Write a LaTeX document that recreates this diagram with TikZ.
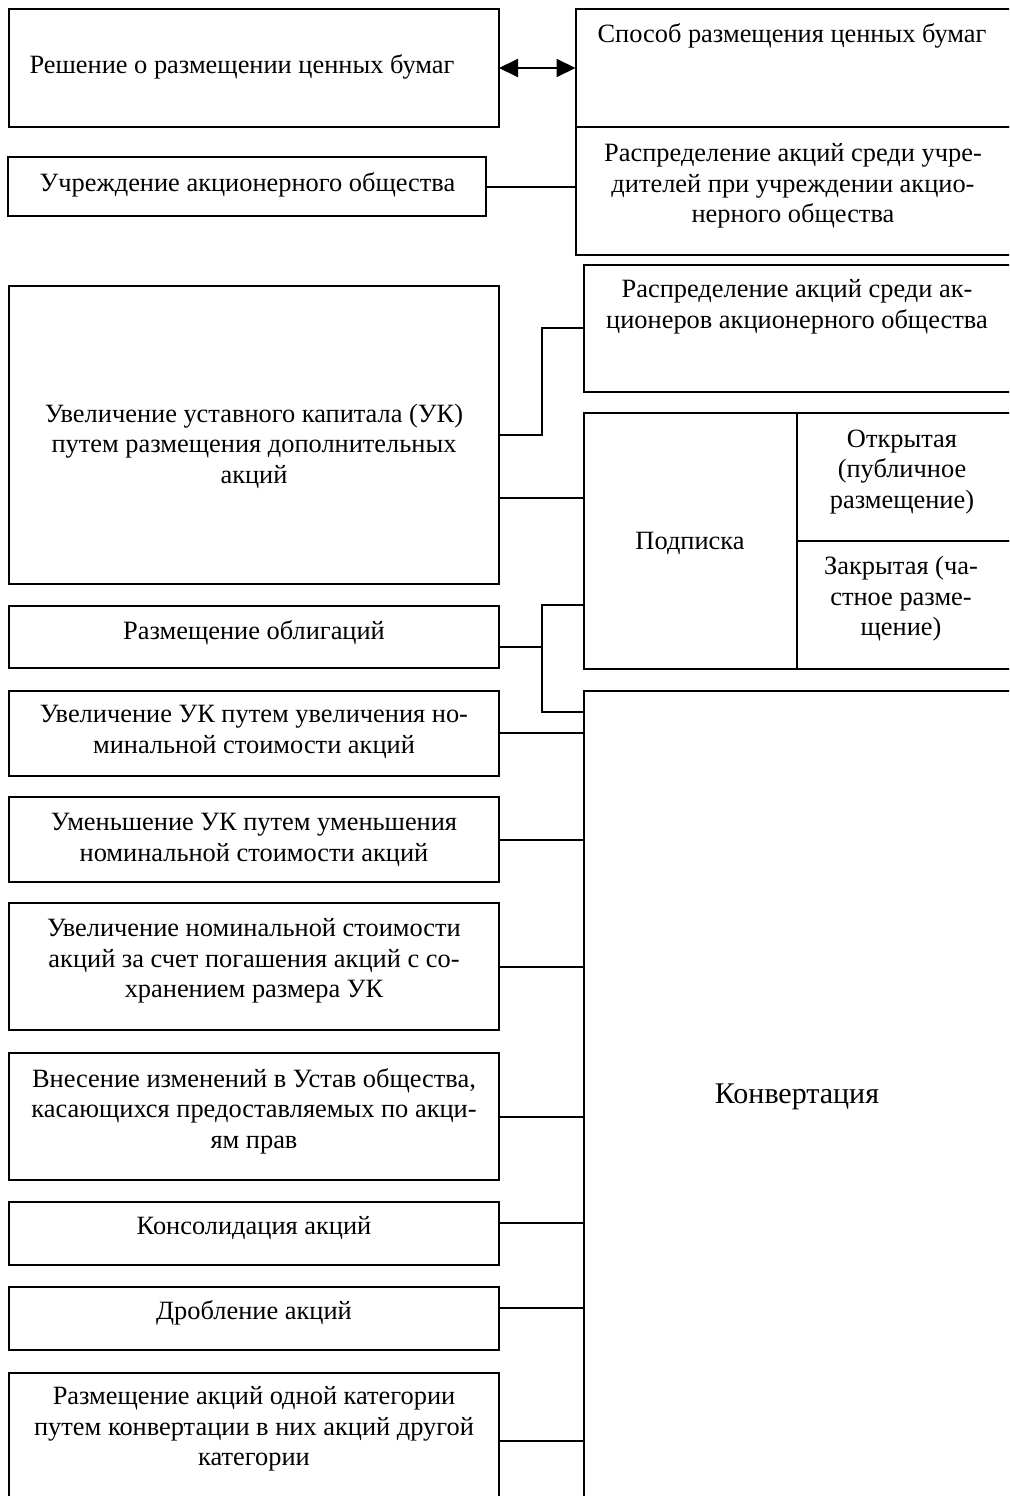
\documentclass[tikz,border=0pt]{standalone}
\usepackage{fontspec}
\setmainfont{Liberation Serif}
\usetikzlibrary{arrows.meta}
\tikzset{
  box/.style={draw, line width=2pt, rectangle, inner sep=0pt, outer sep=0pt},
  lbl/.style={align=center, inner sep=0pt, font=\fontsize{26.4}{30.5}\selectfont},
  conn/.style={line width=2pt},
}
\begin{document}
\begin{tikzpicture}[x=1pt,y=-1pt]
\useasboundingbox (0,0) rectangle (1009,1496);
\clip (0,0) rectangle (1009,1496);
% left column
\node[box, minimum width=490pt, minimum height=118pt] (resh) at (254,68) {};
\node[box, minimum width=478pt, minimum height=59pt] (uchr) at (247,186.5) {};
\node[box, minimum width=490pt, minimum height=298pt] (ukbig) at (254,434.5) {};
\node[box, minimum width=490pt, minimum height=62pt] (oblig) at (254,637) {};
\node[box, minimum width=490pt, minimum height=85pt] (b1) at (254,733) {};
\node[box, minimum width=490pt, minimum height=85pt] (b2) at (254,839.5) {};
\node[box, minimum width=490pt, minimum height=127pt] (b3) at (254,966.5) {};
\node[box, minimum width=490pt, minimum height=127pt] (b4) at (254,1116.5) {};
\node[box, minimum width=490pt, minimum height=63pt] (b5) at (254,1233.5) {};
\node[box, minimum width=490pt, minimum height=63pt] (b6) at (254,1318.5) {};
\node[box, minimum width=490pt, minimum height=148pt] (b7) at (254,1446.5) {};
% right column
\node[box, minimum width=444.5pt, minimum height=118pt] (sposob) at (797.75,68) {};
\node[box, minimum width=444.5pt, minimum height=128pt] (raspr1) at (797.75,191) {};
\node[box, minimum width=436.5pt, minimum height=127pt] (raspr2) at (801.75,328) {};
\node[box, minimum width=213.5pt, minimum height=256pt] (podp) at (690.25,541) {};
\node[box, minimum width=223pt, minimum height=128pt] (otkr) at (908.5,477) {};
\node[box, minimum width=223pt, minimum height=128pt] (zakr) at (908.5,605) {};
\node[box, minimum width=436.5pt, minimum height=830pt] (konv) at (801.75,1105.5) {};
% texts
\node[lbl] (tresh) at (242,67) {Решение о размещении ценных бумаг};
\node[lbl] (tuchr) at (247.5,185) {Учреждение акционерного общества};
\node[lbl] (tukbig) at (254,446) {Увеличение уставного капитала (УК)\\путем размещения дополнительных\\акций};
\node[lbl] (toblig) at (254,633) {Размещение облигаций};
\node[lbl] (tb1) at (254,732) {Увеличение УК путем увеличения но-\\минальной стоимости акций};
\node[lbl] (tb2) at (254,840) {Уменьшение УК путем уменьшения\\номинальной стоимости акций};
\node[lbl] (tb3) at (254,961) {Увеличение номинальной стоимости\\акций за счет погашения акций с со-\\хранением размера УК};
\node[lbl] (tb4) at (254,1111) {Внесение изменений в Устав общества,\\касающихся предоставляемых по акци-\\ям прав};
\node[lbl] (tb5) at (254,1228) {Консолидация акций};
\node[lbl] (tb6) at (254,1313) {Дробление акций};
\node[lbl] (tb7) at (254,1429) {Размещение акций одной категории\\путем конвертации в них акций другой\\категории};
\node[lbl] (tsposob) at (792,36) {Способ размещения ценных бумаг};
\node[lbl] (traspr1) at (793,186) {Распределение акций среди учре-\\дителей при учреждении акцио-\\нерного общества};
\node[lbl] (traspr2) at (797,307) {Распределение акций среди ак-\\ционеров акционерного общества};
\node[lbl] (tpodp) at (690,543) {Подписка};
\node[lbl] (totkr) at (902,472) {Открытая\\(публичное\\размещение)};
\node[lbl] (tzakr) at (901,599) {Закрытая (ча-\\стное разме-\\щение)};
\node[lbl, font=\fontsize{30}{34}\selectfont] (tkonv) at (797,1097) {Конвертация};
% connectors
\draw[conn, {Triangle[length=19pt,width=18pt]}-{Triangle[length=19pt,width=18pt]}] (resh.east) -- (sposob.west);
\draw[conn] (uchr.east) -- (uchr.east -| raspr1.west);
\coordinate (j1) at (541.5,435);
\draw[conn] (ukbig.east |- j1) -- (j1) |- (raspr2.west);
\coordinate (j1b) at (541.5,498);
\draw[conn] (ukbig.east |- j1b) -- (podp.west |- j1b);
\coordinate (j2top) at (541.5,605);
\coordinate (j2mid) at (541.5,647);
\coordinate (j2bot) at (541.5,712);
\draw[conn] (podp.west |- j2top) -- (j2top) -- (j2bot) -- (konv.west |- j2bot);
\draw[conn] (oblig.east |- j2mid) -- (j2mid);
\draw[conn] (b1.east) -- (konv.west |- b1.east);
\draw[conn] (b2.east) -- (konv.west |- b2.east);
\draw[conn] (b3.east) -- (konv.west |- b3.east);
\draw[conn] (b4.east) -- (konv.west |- b4.east);
\coordinate (c5) at (499,1223);
\draw[conn] (b5.east |- c5) -- (konv.west |- c5);
\coordinate (c6) at (499,1308);
\draw[conn] (b6.east |- c6) -- (konv.west |- c6);
\coordinate (c7) at (499,1441);
\draw[conn] (b7.east |- c7) -- (konv.west |- c7);
\end{tikzpicture}
\end{document}
